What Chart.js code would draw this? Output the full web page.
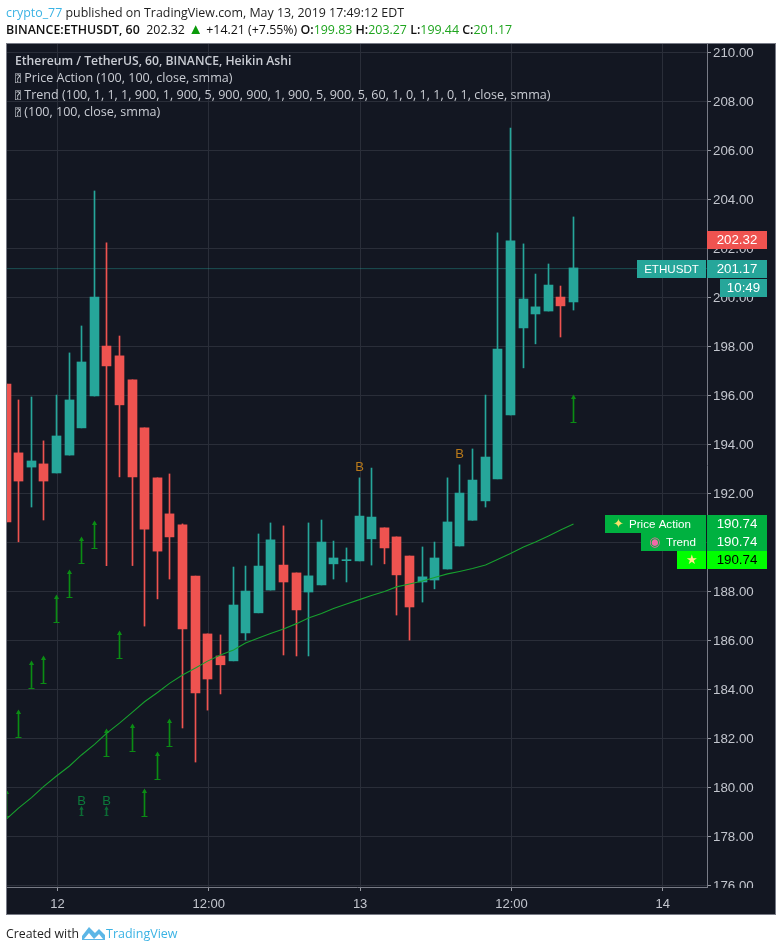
<!DOCTYPE html>
<html>
<head>
<meta charset="utf-8">
<script src="https://cdn.jsdelivr.net/npm/chart.js@4/dist/chart.umd.js"></script>
<style>
    html, body { margin: 0; padding: 0; background: #fff; }
    #page { position: relative; width: 782px; height: 952px; overflow: hidden; }
    #myChart { position: absolute; left: 0; top: 0; }
    .txt { position: absolute; white-space: nowrap; font-family: "Open Sans", sans-serif; }
    .head { font-size: 12.4px; color: #1e1e1e; }
    .legend { left: 15px; font-size: 12.55px; color: #c9ccd3; }
    .tofu { font-family: "DejaVu Sans Mono"; font-size: 10px; }
    b { font-weight: 600; }
    .up { color: #1fa51f; }
</style>
</head>
<body>
<div id="page">
    <canvas id="myChart" width="782" height="952"></canvas>
    <div class="txt head" style="left:6px;top:4px"><span style="color:#3bb3e4">crypto_77</span> published on TradingView.com, May 13, 2019 17:49:12 EDT</div>
    <div class="txt head" style="left:6px;top:21px;color:#111"><b>BINANCE:ETHUSDT, 60</b>&nbsp; 202.32 <span style="color:#0a9a0a;font-size:15px;line-height:0">▲</span> +14.21 (+7.55%) <b>O:</b><span class="up">199.83</span> <b>H:</b><span class="up">203.27</span> <b>L:</b><span class="up">199.44</span> <b>C:</b><span class="up">201.17</span></div>
    <div class="txt legend" style="top:52px;font-size:12.2px;font-weight:600">Ethereum / TetherUS, 60, BINANCE, Heikin Ashi</div>
    <div class="txt legend" style="top:69px"><span class="tofu">⍰</span> Price Action (100, 100, close, smma)</div>
    <div class="txt legend" style="top:86px"><span class="tofu">⍰</span> Trend (100, 1, 1, 1, 900, 1, 900, 5, 900, 900, 1, 900, 5, 900, 5, 60, 1, 0, 1, 1, 0, 1, close, smma)</div>
    <div class="txt legend" style="top:103px"><span class="tofu">⍰</span> (100, 100, close, smma)</div>
    <div class="txt" style="left:6px;top:925px;font-size:12.3px;color:#1e1e1e">Created with</div>
    <svg style="position:absolute;left:81px;top:925px" width="25" height="17" viewBox="0 0 25 17"><path d="M1 15 L1 11 L8 2 L14 8 L18 4 L24 10 L24 15 Z M3 14 L8 8 L13 14 L18 9 L22 14 Z" fill="#5cb6e6" fill-rule="evenodd"/></svg>
    <div class="txt" style="left:106px;top:925px;font-size:12.5px;color:#3bb3e4">TradingView</div>
</div>
<script>
const hours = [-4, -3, -2, -1, 0, 1, 2, 3, 4, 5, 6, 7, 8, 9, 10, 11, 12, 13, 14, 15, 16, 17, 18, 19, 20, 21, 22, 23, 24, 25, 26, 27, 28, 29, 30, 31, 32, 33, 34, 35, 36, 37, 38, 39, 40, 41];
const opens = [196.46, 193.65, 193.07, 193.20, 192.83, 193.56, 194.67, 195.97, 198.01, 197.61, 196.63, 194.67, 192.63, 191.16, 190.71, 188.62, 186.26, 185.36, 185.16, 186.30, 187.12, 188.05, 189.07, 188.75, 187.97, 188.26, 189.12, 189.25, 189.24, 190.14, 190.59, 190.22, 189.44, 188.38, 188.46, 188.91, 189.85, 190.90, 191.69, 192.59, 195.20, 198.75, 199.32, 199.44, 200.01, 199.81];
const closes = [190.83, 192.50, 193.32, 192.50, 194.34, 195.81, 197.36, 200.01, 197.20, 195.61, 192.67, 190.54, 189.64, 190.22, 186.46, 183.85, 184.42, 185.00, 187.44, 188.01, 189.03, 190.10, 188.38, 187.24, 188.63, 190.01, 189.36, 189.29, 191.07, 191.03, 189.77, 188.67, 187.36, 188.59, 189.36, 190.83, 192.01, 192.54, 193.48, 197.89, 202.30, 199.93, 199.61, 200.50, 199.65, 201.20];
const highs = [196.46, 195.81, 195.93, 194.14, 196.01, 197.73, 198.83, 204.34, 202.22, 198.42, 196.63, 194.67, 192.63, 192.79, 190.75, 188.62, 186.26, 186.22, 188.99, 189.03, 190.34, 190.79, 190.67, 188.75, 190.79, 190.91, 190.05, 189.77, 192.63, 193.03, 190.59, 190.22, 189.44, 189.81, 190.01, 192.63, 193.16, 193.81, 196.01, 202.63, 206.91, 202.18, 200.95, 201.36, 200.46, 203.28];
const lows = [190.83, 190.02, 191.44, 190.91, 192.83, 193.56, 194.67, 195.97, 189.05, 192.67, 189.05, 186.58, 187.69, 188.50, 182.42, 181.03, 183.15, 183.81, 185.16, 186.01, 187.12, 188.05, 185.40, 185.36, 185.36, 188.26, 188.50, 188.38, 189.24, 189.07, 189.12, 187.03, 186.01, 187.56, 188.10, 188.91, 189.85, 190.90, 191.44, 192.59, 195.20, 197.12, 198.10, 199.44, 198.38, 199.48];
const maValues = [178.71, 179.15, 179.58, 180.03, 180.46, 180.87, 181.32, 181.75, 182.20, 182.62, 183.07, 183.49, 183.87, 184.24, 184.58, 184.87, 185.15, 185.40, 185.60, 185.89, 186.09, 186.28, 186.46, 186.68, 186.91, 187.09, 187.30, 187.48, 187.66, 187.83, 187.99, 188.18, 188.30, 188.42, 188.56, 188.71, 188.81, 188.93, 189.07, 189.30, 189.54, 189.81, 190.01, 190.26, 190.50, 190.75];

const arrowHours = [-4, -3, -2, -1, 0, 1, 2, 3, 4, 5, 6, 7, 8, 9, 41];
const arrowTops = [179.82, 183.09, 185.06, 185.28, 187.77, 188.80, 190.14, 190.79, 182.31, 186.30, 182.52, 179.86, 181.36, 182.72, 195.92];
const arrowBottoms = [178.84, 182.07, 184.07, 184.27, 186.76, 187.78, 189.14, 189.78, 181.29, 185.29, 181.50, 178.84, 180.35, 181.70, 194.90];
const smallArrowHours = [2, 4];
const smallArrowTops = [179.14, 179.14];
const smallArrowBottoms = [178.87, 178.87];

const buyHours = [2, 4, 24, 32];
const buyLevels = [179.44, 179.44, 193.06, 193.60];
const buyColors = ["#0c7a3a", "#0c7a3a", "#b8791a", "#b8791a"];

const priceTicks = [176, 178, 180, 182, 184, 186, 188, 190, 192, 194, 196, 198, 200, 202, 204, 206, 208, 210];
const timeTicks = [0, 12, 24, 36, 48];
const timeLabels = ["12", "12:00", "13", "12:00", "14"];

const lastPrice = 201.17;
const lastHigh = 202.32;
const indicatorPrice = 190.74;

const teal = "#26a69a";
const red = "#ef5350";
const bg = "#131722";
const gridColor = "#2a2e39";
const frameColor = "#787b86";
const arrowGreen = "#0b8c14";

const pick = (xs, ys) => xs.map((x, i) => ({ x: x, y: ys[i] }));
const candleColors = opens.map((o, i) => (closes[i] >= o ? teal : red));

// candles sit one pixel left of the grid on the reference, and on whole pixels
const snapMarks = {
    id: "snapMarks",
    beforeDatasetDraw(chart, args) {
        args.meta.data.forEach((el) => {
            el.x = Math.floor(el.x - 1) + 0.5;
            if (args.meta.type === "scatter") el.y = Math.round(el.y) + 0.5;
        });
    },
};

const paintBack = {
    id: "paintBack",
    beforeDraw(chart) {
        const c = chart.ctx;
        c.fillStyle = bg;
        c.fillRect(6, 43, 770, 872);
    },
    afterDatasetsDraw(chart) {
        const c = chart.ctx;
        const area = chart.chartArea;
        const yScale = chart.scales.y;
        const xScale = chart.scales.x;

        // time axis covers what falls under the pane on the price side
        c.fillStyle = bg;
        c.fillRect(area.right + 1, area.bottom + 1, 66, 27);

        c.textBaseline = "middle";
        c.textAlign = "center";
        c.font = "13px 'Liberation Sans'";
        buyHours.forEach((h, i) => {
            c.fillStyle = buyColors[i];
            c.fillText("B", Math.floor(xScale.getPixelForValue(h) - 1) + 0.5, yScale.getPixelForValue(buyLevels[i]));
        });

        const box = (x, y, w, h, color, text, textColor, size) => {
            c.fillStyle = color;
            c.fillRect(x, y, w, h);
            if (!text) return;
            c.fillStyle = textColor || "#ffffff";
            c.textAlign = "center";
            c.font = (size || 13.3) + "px 'Liberation Sans'";
            c.fillText(text, x + w / 2, y + h / 2 + 0.5);
        };

        const axisX = area.right;
        const lastY = Math.round(yScale.getPixelForValue(lastPrice));
        const highY = Math.round(yScale.getPixelForValue(lastHigh));
        const indY = Math.round(yScale.getPixelForValue(indicatorPrice));

        box(axisX, highY - 9, 60, 18, red, lastHigh.toFixed(2));
        box(axisX, lastY - 9, 60, 18, teal, lastPrice.toFixed(2));
        box(axisX - 70, lastY - 9, 69, 18, teal, "ETHUSDT", null, 11.6);
        box(axisX + 13, lastY + 10, 47, 18, teal, "10:49");

        // three labels for the same price, stacked downwards
        const green = "#00b140";
        box(axisX, indY - 9, 60, 18, green, indicatorPrice.toFixed(2));
        box(axisX, indY + 9, 60, 18, green, indicatorPrice.toFixed(2));
        box(axisX, indY + 27, 60, 18, "#00ff00", indicatorPrice.toFixed(2), "#000000");
        box(axisX - 102, indY - 9, 101, 18, green);
        box(axisX - 66, indY + 9, 65, 18, green);
        box(axisX - 30, indY + 27, 29, 18, "#00ff00");

        c.textAlign = "left";
        c.font = "11.6px 'Liberation Sans'";
        c.fillStyle = "#ffffff";
        c.fillText("Price Action", axisX - 78, indY + 0.5);
        c.fillText("Trend", axisX - 41, indY + 18.5);
        c.font = "13px 'DejaVu Sans'";
        c.fillStyle = "#f7e36a";
        c.fillText("✦", axisX - 94, indY + 0.5);
        c.fillStyle = "#f06aa8";
        c.fillText("◉", axisX - 58, indY + 18.5);
        c.fillStyle = "#ffe98a";
        c.fillText("★", axisX - 21, indY + 36.5);

        // frame and axis lines
        c.strokeStyle = frameColor;
        c.lineWidth = 1;
        c.strokeRect(6.5, 43.5, 769, 871);
    },
};

const ctx = document.getElementById("myChart").getContext("2d");
const myChart = new Chart(ctx, {
    type: "bar",
    data: {
        datasets: [
            {
                type: "line",
                data: pick(hours, maValues),
                borderColor: "#17a02e",
                borderWidth: 1.1,
                pointRadius: 0,
                tension: 0,
                order: 0,
            },
            {
                type: "line",
                data: [{ x: -8, y: lastPrice }, { x: 56, y: lastPrice }],
                borderColor: "rgba(38, 166, 154, 0.4)",
                borderWidth: 1,
                pointRadius: 0,
                order: 5,
            },
            {
                type: "scatter",
                data: pick(arrowHours, arrowTops),
                pointStyle: "triangle",
                pointRadius: 3,
                borderWidth: 0,
                backgroundColor: arrowGreen,
                order: 1,
            },
            {
                type: "scatter",
                data: pick(arrowHours, arrowBottoms),
                pointStyle: "line",
                pointRadius: 3,
                borderWidth: 1,
                borderColor: arrowGreen,
                order: 1,
            },
            {
                data: arrowHours.map((h, i) => ({ x: h, y: [arrowBottoms[i], arrowTops[i]] })),
                backgroundColor: arrowGreen,
                barThickness: 1,
                grouped: false,
                order: 1,
            },
            {
                type: "scatter",
                data: pick(smallArrowHours, smallArrowTops),
                pointStyle: "triangle",
                pointRadius: 2.5,
                borderWidth: 0,
                backgroundColor: "#0c6b34",
                order: 1,
            },
            {
                type: "scatter",
                data: pick(smallArrowHours, smallArrowBottoms),
                pointStyle: "line",
                pointRadius: 2,
                borderWidth: 1,
                borderColor: "#0c6b34",
                order: 1,
            },
            {
                data: smallArrowHours.map((h, i) => ({ x: h, y: [smallArrowBottoms[i], smallArrowTops[i]] })),
                backgroundColor: "#0c6b34",
                barThickness: 1,
                grouped: false,
                order: 1,
            },
            {
                data: hours.map((h, i) => ({ x: h, y: [opens[i], closes[i]] })),
                backgroundColor: candleColors,
                barThickness: 9,
                grouped: false,
                order: 2,
            },
            {
                data: hours.map((h, i) => ({ x: h, y: [lows[i], highs[i]] })),
                backgroundColor: candleColors,
                barThickness: 1,
                grouped: false,
                order: 3,
            },
        ],
    },
    options: {
        responsive: false,
        animation: false,
        layout: { padding: { left: 7, top: 43, right: 7, bottom: 37 } },
        plugins: { legend: { display: false }, tooltip: { enabled: false } },
        scales: {
            x: {
                type: "linear",
                min: -4.005,
                max: 51.51,
                offset: false,
                afterBuildTicks: (axis) => { axis.ticks = timeTicks.map((v) => ({ value: v })); },
                afterFit: (axis) => { axis.height = 28; },
                grid: { color: gridColor, tickColor: "#9598a1", tickLength: 4, offset: false },
                border: { color: frameColor },
                ticks: {
                    color: "#c3c6ce",
                    font: { family: "Liberation Sans", size: 13 },
                    padding: 6,
                    maxRotation: 0,
                    autoSkip: false,
                    callback: (v) => timeLabels[timeTicks.indexOf(v)],
                },
            },
            y: {
                position: "right",
                min: 175.93,
                max: 210.38,
                afterBuildTicks: (axis) => { axis.ticks = priceTicks.map((v) => ({ value: v })); },
                afterFit: (axis) => { axis.width = 68; },
                grid: { color: gridColor, tickColor: "#9598a1", tickLength: 4 },
                border: { color: frameColor },
                ticks: {
                    color: "#c3c6ce",
                    font: { family: "Liberation Sans", size: 13.3 },
                    padding: 2,
                    labelOffset: 1,
                    autoSkip: false,
                    callback: (v) => v.toFixed(2),
                },
            },
        },
    },
    plugins: [snapMarks, paintBack],
});
</script>
</body>
</html>
